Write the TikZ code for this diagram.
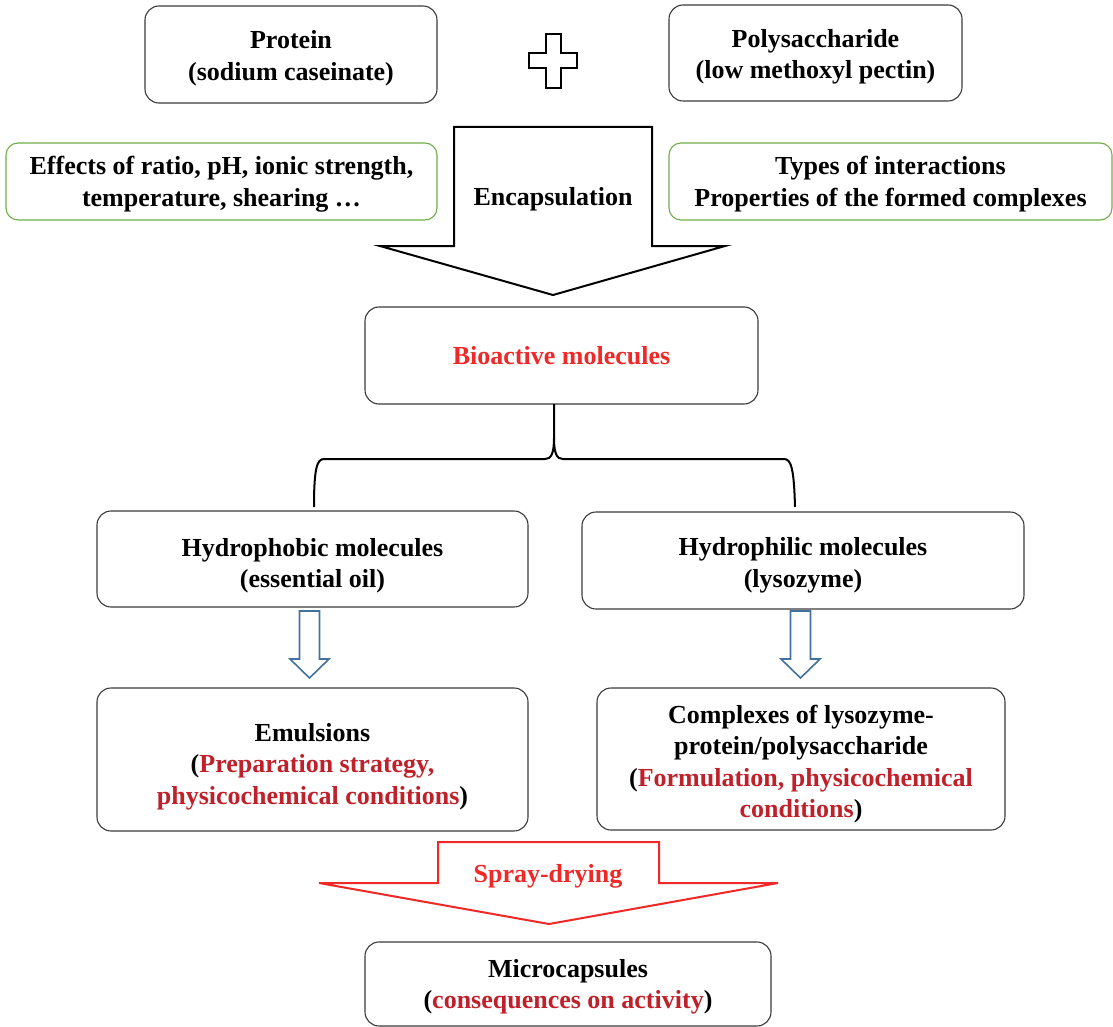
\documentclass[tikz,border=0pt]{standalone}
\usepackage{fontspec}
\setmainfont{Liberation Serif}
\definecolor{brd}{HTML}{3A3A3A}
\definecolor{grn}{HTML}{70AD47}
\definecolor{blu}{HTML}{41719C}
\definecolor{rd}{HTML}{F02828}
\definecolor{drd}{HTML}{C0202A}
\begin{document}
\begin{tikzpicture}[x=1pt,y=-1pt,
  txt/.style={font=\fontsize{26}{31.5}\selectfont\bfseries, align=center, inner sep=0pt},
  box/.style={txt, draw=brd, line width=1.1pt, rounded corners=14pt},
  gbox/.style={txt, draw=grn, line width=1.1pt, rounded corners=12pt},
  lbl/.style 2 args={label={[txt,yshift=-#1pt]center:{#2}}},
  bigarrow/.style={draw=black, line width=2pt, fill=white, line join=miter},
  bluearrow/.style={draw=blu, line width=1.6pt, fill=white},
  redarrow/.style={draw=rd, line width=2pt, fill=white},
  bracket/.style={draw=black, line width=2pt}]
\useasboundingbox (0,0) rectangle (1113,1027);

% top boxes
\node[box, minimum width=292, minimum height=97, lbl={3.5}{Protein\\(sodium caseinate)}] (prot) at (291,54.5) {};
\node[box, minimum width=293, minimum height=96, lbl={4}{Polysaccharide\\(low methoxyl pectin)}] (poly) at (815.5,53) {};
% plus sign
\draw[line width=2pt] (545.5,34) -- (560.5,34) -- (560.5,53.5) -- (577,53.5) -- (577,68.5) -- (560.5,68.5) -- (560.5,88) -- (545.5,88) -- (545.5,68.5) -- (529,68.5) -- (529,53.5) -- (545.5,53.5) -- cycle;

% green boxes
\node[gbox, minimum width=431, minimum height=77, lbl={2.5}{Effects of ratio, pH, ionic strength,\\temperature, shearing \ldots}] (eff) at (221.5,181.5) {};
\node[gbox, minimum width=443, minimum height=77, lbl={2.5}{Types of interactions\\Properties of the formed complexes}] (types) at (890.5,181.5) {};

% encapsulation arrow
\draw[bigarrow] (454,127) -- (652,127) -- (652,246) -- (725,246) -- (553,295) -- (380,246) -- (454,246) -- cycle;
\node[txt] (enc) at (553,199) {Encapsulation};

% bioactive
\node[box, minimum width=393, minimum height=97, text=rd] (bio) at (561.5,355.5) {Bioactive molecules};

% hydrophobic / hydrophilic
\node[box, minimum width=431, minimum height=96, lbl={6.5}{Hydrophobic molecules\\(essential oil)}] (hyd1) at (312.5,559) {};
\node[box, minimum width=442, minimum height=97, lbl={5}{Hydrophilic molecules\\(lysozyme)}] (hyd2) at (803,560.5) {};

% bracket
\coordinate (st) at (554,404);
\coordinate (bl) at (314,507);
\coordinate (br) at (795,507);
\draw[bracket] (st) -- (554,438) .. controls (554,454) and (551,459) .. (545,459) -- (324,459) .. controls (317,459) and (314,468) .. (bl);
\draw[bracket] (554,438) .. controls (554,454) and (557,459) .. (563,459) -- (784,459) .. controls (791,459) and (794,468) .. (br);

% blue arrows
\draw[bluearrow] (299.5,611) -- (319.5,611) -- (319.5,659) -- (329,659) -- (309.5,678) -- (290,659) -- (299.5,659) -- cycle;
\draw[bluearrow] (790.5,611) -- (810.5,611) -- (810.5,659) -- (820,659) -- (800.5,678) -- (781,659) -- (790.5,659) -- cycle;

% lower boxes
\node[box, minimum width=431, minimum height=143, lbl={7}{Emulsions\\(\textcolor{drd}{Preparation strategy,}\\\textcolor{drd}{physicochemical conditions})}] (emul) at (312.5,759.5) {};
\node[box, minimum width=408, minimum height=142, lbl={5}{Complexes of lysozyme-\\protein/polysaccharide\\(\textcolor{drd}{Formulation, physicochemical}\\\textcolor{drd}{conditions})}] (comp) at (801,759) {};

% spray-drying arrow
\draw[redarrow] (438,842) -- (659,842) -- (659,883) -- (778,883) -- (549,924) -- (319,883) -- (438,883) -- cycle;
\node[txt, text=rd] (spray) at (548,876) {Spray-drying};

% microcapsules
\node[box, minimum width=406, minimum height=84, lbl={3}{Microcapsules\\(\textcolor{drd}{consequences on activity})}] (micro) at (568,984) {};
\end{tikzpicture}
\end{document}
